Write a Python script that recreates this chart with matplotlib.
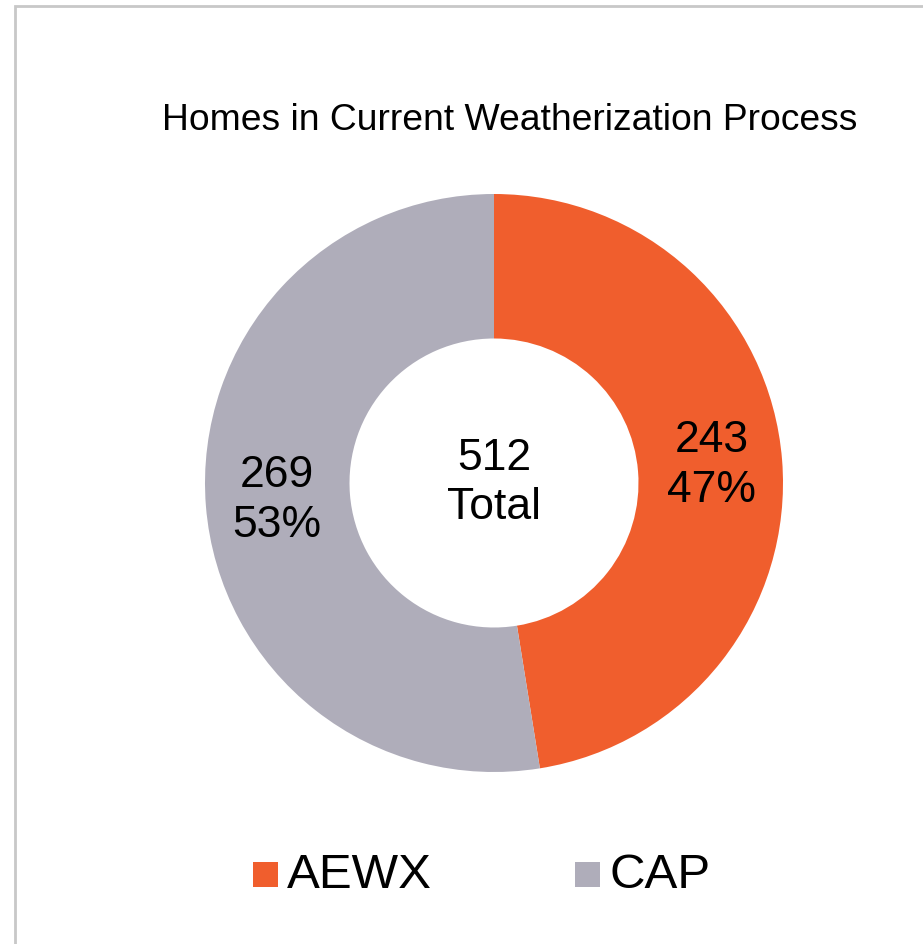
import matplotlib
matplotlib.use('Agg')
import matplotlib.pyplot as plt
import matplotlib.patches as patches

plt.rcParams['font.family'] = ['Liberation Sans', 'DejaVu Sans']

# data
labels = ['AEWX', 'CAP']
values = [243, 269]
colors = ['#F05E2D', '#AFADBA']
title = 'Homes in Current Weatherization Process'

W, H = 923, 944
fig = plt.figure(figsize=(W / 100, H / 100), dpi=100)

# light grey frame (runs off the right and bottom edges)
frame = patches.Rectangle((15 / W, -0.1), 1.2, 1 - 6 / H + 0.1,
                          transform=fig.transFigure, fill=False,
                          edgecolor='#c8c8c8', linewidth=2)
fig.patches.append(frame)

cx, cy, r = 494, 483, 289
ax = fig.add_axes([(cx - r) / W, (H - cy - r) / H, 2 * r / W, 2 * r / H])
total = sum(values)

wedges, texts, autotexts = ax.pie(
    values, colors=colors, startangle=90, counterclock=False,
    radius=1.0, wedgeprops=dict(width=0.5, linewidth=0),
    autopct=lambda p: '{:.0f}\n{:.0f}%'.format(p * total / 100, p),
    pctdistance=0.755,
    textprops=dict(fontsize=32, color='black', linespacing=1.28))
ax.set_xlim(-1, 1)
ax.set_ylim(-1, 1)
ax.set_aspect('equal')
ax.axis('off')

ax.text(0, 0.0, '{}\nTotal'.format(total), ha='center', va='center',
        fontsize=32, linespacing=1.28)

fig.text(510 / W, 1 - 120 / H, title, ha='center', va='center', fontsize=26.8)

# legend: square swatch + label, placed by hand
for x_sq, lab, col in zip([253, 575], labels, colors):
    sq = patches.Rectangle((x_sq / W, 1 - 887 / H), 25 / W, 25 / H,
                           transform=fig.transFigure, facecolor=col,
                           edgecolor='none')
    fig.patches.append(sq)
    fig.text((x_sq + 34) / W, 1 - 876 / H, lab, ha='left', va='center',
             fontsize=35.5)

fig.savefig('out.png', dpi=100)
